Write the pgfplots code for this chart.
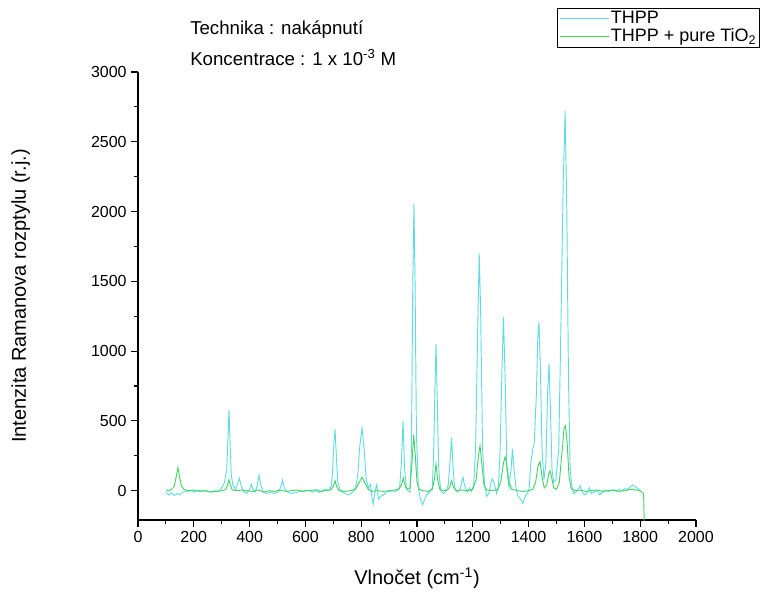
\documentclass[border=0pt]{standalone}
\usepackage{pgfplots}
\pgfplotsset{compat=1.18}
\usepackage{fontspec}
\setmainfont{Liberation Sans}
\definecolor{thpp}{RGB}{95,220,225}
\definecolor{tio}{RGB}{70,210,100}
\begin{document}
\begin{tikzpicture}
\begin{axis}[
    scale only axis,
    width=418.5pt, height=336pt,
    xmin=0, xmax=2000, ymin=-210, ymax=3000,
    axis lines*=left,
    axis line style={-, line width=1pt},
    tick align=outside,
    tick style={black, line width=0.8pt},
    major tick length=5pt, minor tick length=3pt,
    xtick={0,200,...,2000}, ytick={0,500,...,3000},
    minor x tick num=1, minor y tick num=1,
    /pgf/number format/assume math mode=true,
    /pgf/number format/1000 sep={},
    tick label style={font=\fontsize{12}{14}\selectfont},
    xlabel={Vlnočet (cm\textsuperscript{-1})},
    ylabel={Intenzita Ramanova rozptylu (r.j.)},
    every axis x label/.style={at={(rel axis cs:0.5,0)}, anchor=center, yshift=-44pt,
        font=\fontsize{15}{17}\selectfont},
    every axis y label/.style={at={(rel axis cs:0,0.5)}, anchor=center, xshift=-88pt, rotate=90,
        font=\fontsize{15}{17}\selectfont},
    clip mode=individual,
    legend style={at={(1.1147,1.1429)}, anchor=north east,
        font=\fontsize{13.5}{14}\selectfont, row sep=0pt, inner sep=1.5pt,
        nodes={inner sep=1pt}},
    legend cell align=left,
    legend image code/.code={\draw[#1] (0cm,0cm) -- (1.3cm,0cm);},
]
\addplot[thpp, line width=0.7pt] coordinates {
(100,-10) (110,-30) (120,-15) (130,-35) (140,-20) (150,-30) (160,-10) (175,-5) (190,0) (200,-10)
(215,5) (230,-5) (245,0) (260,-10) (275,0) (290,-5) (300,20) (310,60) (318,150) (322,350)
(326,580) (330,350) (334,120) (340,40) (350,10) (357,50) (363,90) (369,40) (378,-5) (390,-20)
(400,10) (406,45) (412,10) (420,-10) (428,40) (434,112) (440,40) (448,-5) (460,-20) (475,-10)
(490,-20) (505,-5) (512,30) (518,76) (524,20) (535,-10) (550,-20) (565,-15) (580,-5) (595,0)
(610,5) (625,-10) (640,10) (655,-5) (670,10) (685,0) (692,30) (697,120) (701,300) (706,440)
(711,250) (716,60) (725,5) (740,-20) (755,-30) (770,-10) (780,20) (788,120) (795,320) (803,450)
(811,280) (818,80) (826,20) (833,45) (838,-40) (843,-95) (850,0) (856,45) (862,-60) (870,-40)
(880,-30) (890,-10) (900,-5) (910,0) (920,-5) (930,0) (938,30) (944,200) (950,500) (955,180)
(962,20) (968,0) (975,-10) (980,300) (985,1500) (989,2055) (993,1500) (998,400) (1005,20) (1012,-60)
(1020,-100) (1028,-60) (1035,-30) (1045,-10) (1055,20) (1060,300) (1065,800) (1068,1050) (1072,700) (1078,150)
(1085,0) (1095,-20) (1105,0) (1112,40) (1118,200) (1124,380) (1129,180) (1135,20) (1145,-10) (1155,10)
(1160,60) (1165,96) (1170,40) (1180,-10) (1188,20) (1195,-5) (1203,40) (1210,300) (1218,1200) (1223,1700)
(1228,1300) (1235,300) (1242,40) (1250,-40) (1258,-20) (1265,60) (1270,84) (1278,50) (1285,-20) (1292,30)
(1298,300) (1305,900) (1310,1245) (1316,800) (1322,150) (1330,20) (1337,150) (1342,300) (1348,150) (1355,20)
(1362,-40) (1372,-60) (1380,-90) (1388,-40) (1395,-20) (1402,10) (1408,200) (1415,300) (1420,330) (1428,700)
(1433,1100) (1437,1210) (1442,900) (1448,300) (1455,80) (1462,200) (1468,700) (1473,908) (1478,600) (1484,150)
(1490,60) (1498,80) (1508,300) (1516,1200) (1524,2200) (1531,2720) (1537,2000) (1543,800) (1549,150) (1556,20)
(1562,-20) (1570,-10) (1578,10) (1585,35) (1592,-10) (1600,-30) (1610,-15) (1618,20) (1625,-20) (1635,-10)
(1645,0) (1655,-30) (1665,-10) (1675,5) (1685,-5) (1695,0) (1705,5) (1715,-5) (1725,10) (1735,0)
(1745,15) (1755,10) (1765,30) (1775,40) (1785,25) (1795,10) (1800,0)
};
\addlegendentry{THPP}
\addplot[tio, line width=0.7pt] coordinates {
(100,5) (110,0) (120,10) (130,30) (137,100) (143,167) (149,100) (156,30) (165,10) (180,0)
(200,5) (220,-5) (240,0) (260,-10) (280,-5) (300,0) (315,10) (321,40) (326,79) (331,40)
(338,5) (355,0) (370,5) (390,0) (410,-5) (430,5) (450,-10) (470,0) (490,-5) (510,5)
(530,-5) (550,0) (570,5) (590,-5) (610,0) (630,5) (650,-10) (670,0) (690,5) (700,30)
(706,72) (712,30) (720,0) (740,-5) (760,0) (780,10) (790,50) (803,97) (815,50) (825,10)
(840,-5) (860,0) (880,-5) (900,0) (920,5) (935,10) (944,40) (951,91) (958,30) (965,10)
(975,20) (982,200) (988,400) (994,250) (1000,60) (1008,10) (1020,0) (1040,-5) (1055,10) (1062,80)
(1068,191) (1074,80) (1082,10) (1095,0) (1110,5) (1118,30) (1124,72) (1130,30) (1140,0) (1160,5)
(1180,0) (1200,10) (1212,80) (1220,250) (1226,322) (1232,200) (1240,40) (1250,5) (1270,0) (1290,10)
(1300,60) (1310,200) (1316,243) (1322,180) (1330,60) (1340,10) (1360,0) (1380,-5) (1400,0) (1415,10)
(1425,60) (1434,180) (1441,208) (1448,100) (1456,20) (1465,40) (1472,120) (1477,143) (1482,100) (1490,20)
(1500,10) (1510,60) (1520,280) (1527,450) (1532,466) (1538,350) (1545,100) (1552,20) (1565,0) (1585,5)
(1605,-5) (1625,0) (1645,5) (1665,-5) (1685,0) (1705,5) (1725,-5) (1745,0) (1765,10) (1785,5)
(1800,0) (1812,-20) (1818,-500)
};
\addlegendentry{THPP + pure TiO\textsubscript{2}}
\coordinate (o) at (rel axis cs:0,0);
\end{axis}
\node[anchor=west, font=\fontsize{14}{16}\selectfont, inner sep=0pt] at ([shift={(39pt,367.5pt)}]o) {Technika : nakápnutí};
\node[anchor=west, font=\fontsize{14}{16}\selectfont, inner sep=0pt] at ([shift={(39pt,346.5pt)}]o) {Koncentrace : 1 x 10\textsuperscript{-3} M};
\path ([shift={(-103.5pt,-50.25pt)}]o) rectangle ++(570.75pt,440.25pt);
\end{tikzpicture}
\end{document}
